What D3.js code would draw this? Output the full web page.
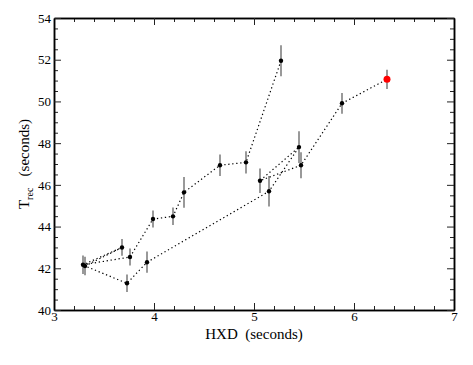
<!DOCTYPE html>
<html>
<head>
<meta charset="utf-8">
<script src="https://cdn.jsdelivr.net/npm/d3@7"></script>
<style>
  body { margin: 0; background: #fff; }
  svg { display: block; }
  .tick text { font-family: "Liberation Serif", "DejaVu Serif", serif; }
</style>
</head>
<body>
<script>
'use strict';

// observations in time order (last one drawn in red)
const hxd = [5.27, 4.92, 4.66, 4.30, 4.19, 3.99, 3.76, 3.29, 3.68, 3.31, 3.73, 3.93, 5.15, 5.45, 5.06, 5.47, 5.88, 6.33];
const trec = [51.95, 47.08, 46.94, 45.64, 44.49, 44.36, 42.54, 42.17, 43.0, 42.11, 41.28, 42.29, 45.69, 47.81, 46.2, 46.94, 49.91, 51.06];
const trecErr = [0.74, 0.53, 0.51, 0.74, 0.42, 0.41, 0.41, 0.44, 0.4, 0.44, 0.42, 0.51, 0.73, 0.76, 0.59, 0.62, 0.5, 0.46];

const xTicks = [3, 4, 5, 6, 7];
const yTicks = [40, 42, 44, 46, 48, 50, 52, 54];

(function() {
  const width = 473, height = 365;
  const pLeft = 54, pRight = 454, pTop = 18, pBottom = 310;

  const svg = d3.select('body').append('svg')
    .attr('width', width)
    .attr('height', height);

  const x = d3.scaleLinear().domain([3, 7]).range([pLeft, pRight]);
  const y = d3.scaleLinear().domain([40, 54]).range([pBottom, pTop]);

  const points = hxd.map((h, i) => ({ x: h, y: trec[i], e: trecErr[i] }));

  // minor ticks
  const xMinor = d3.range(3, 7.001, 0.2).filter(v => Math.abs(v - Math.round(v)) > 1e-6);
  const yMinor = d3.range(40, 54.001, 0.5).filter(v => Math.abs(v / 2 - Math.round(v / 2)) > 1e-6);

  function styleAxis(g) {
    g.select('.domain').attr('stroke', '#000').attr('stroke-width', 1.5);
    g.selectAll('.tick line').attr('stroke', '#222').attr('stroke-width', 1);
  }

  // minor tick axes (no labels)
  svg.append('g').attr('transform', `translate(0,${pBottom})`)
    .call(d3.axisBottom(x).tickValues(xMinor).tickSizeInner(-4).tickSizeOuter(0).tickFormat(''))
    .call(styleAxis);
  svg.append('g').attr('transform', `translate(0,${pTop})`)
    .call(d3.axisTop(x).tickValues(xMinor).tickSizeInner(-4).tickSizeOuter(0).tickFormat(''))
    .call(styleAxis);
  svg.append('g').attr('transform', `translate(${pLeft},0)`)
    .call(d3.axisLeft(y).tickValues(yMinor).tickSizeInner(-4).tickSizeOuter(0).tickFormat(''))
    .call(styleAxis);
  svg.append('g').attr('transform', `translate(${pRight},0)`)
    .call(d3.axisRight(y).tickValues(yMinor).tickSizeInner(-4).tickSizeOuter(0).tickFormat(''))
    .call(styleAxis);

  // major ticks
  svg.append('g').attr('transform', `translate(0,${pBottom})`)
    .call(d3.axisBottom(x).tickValues(xTicks).tickSizeInner(-7).tickSizeOuter(0).tickPadding(2).tickFormat(d3.format('d')))
    .call(styleAxis)
    .call(g => g.selectAll('.tick text').attr('font-size', 13).attr('fill', '#000'));
  svg.append('g').attr('transform', `translate(0,${pTop})`)
    .call(d3.axisTop(x).tickValues(xTicks).tickSizeInner(-7).tickSizeOuter(0).tickFormat(''))
    .call(styleAxis);
  svg.append('g').attr('transform', `translate(${pLeft},0)`)
    .call(d3.axisLeft(y).tickValues(yTicks).tickSizeInner(-7).tickSizeOuter(0).tickPadding(3).tickFormat(d3.format('d')))
    .call(styleAxis)
    .call(g => g.selectAll('.tick text').attr('font-size', 13).attr('fill', '#000'));
  svg.append('g').attr('transform', `translate(${pRight},0)`)
    .call(d3.axisRight(y).tickValues(yTicks).tickSizeInner(-7).tickSizeOuter(0).tickFormat(''))
    .call(styleAxis);

  // dotted connecting line
  const line = d3.line().x(d => x(d.x)).y(d => y(d.y));
  svg.append('path')
    .datum(points)
    .attr('d', line)
    .attr('fill', 'none')
    .attr('stroke', '#000')
    .attr('stroke-width', 1.2)
    .attr('stroke-dasharray', '1.3,2.7');

  // error bars
  svg.selectAll('.err')
    .data(points)
    .enter()
    .append('line')
      .attr('class', 'err')
      .attr('x1', d => x(d.x))
      .attr('x2', d => x(d.x))
      .attr('y1', d => y(d.y - d.e))
      .attr('y2', d => y(d.y + d.e))
      .attr('stroke', '#555')
      .attr('stroke-width', 1.2);

  // points
  svg.selectAll('.point')
    .data(points)
    .enter()
    .append('circle')
      .attr('class', 'point')
      .attr('cx', d => x(d.x))
      .attr('cy', d => y(d.y))
      .attr('r', (d, i) => i === points.length - 1 ? 3.5 : 2.2)
      .attr('fill', (d, i) => i === points.length - 1 ? '#ff0000' : '#000');

  // axis titles
  svg.append('text')
    .attr('x', (pLeft + pRight) / 2)
    .attr('y', 339)
    .attr('text-anchor', 'middle')
    .attr('font-family', '"Liberation Serif", serif')
    .attr('font-size', 15)
    .style('white-space', 'pre')
    .text('HXD  (seconds)');

  const yTitle = svg.append('text')
    .attr('transform', `translate(29,${(pTop + pBottom) / 2}) rotate(-90)`)
    .attr('text-anchor', 'middle')
    .attr('font-family', '"Liberation Serif", serif')
    .attr('font-size', 15)
    .style('white-space', 'pre');
  yTitle.append('tspan').text('T');
  yTitle.append('tspan').attr('font-size', 10).attr('dy', 4).text('rec');
  yTitle.append('tspan').attr('dy', -4).text('   (seconds)');
})();
</script>
</body>
</html>
